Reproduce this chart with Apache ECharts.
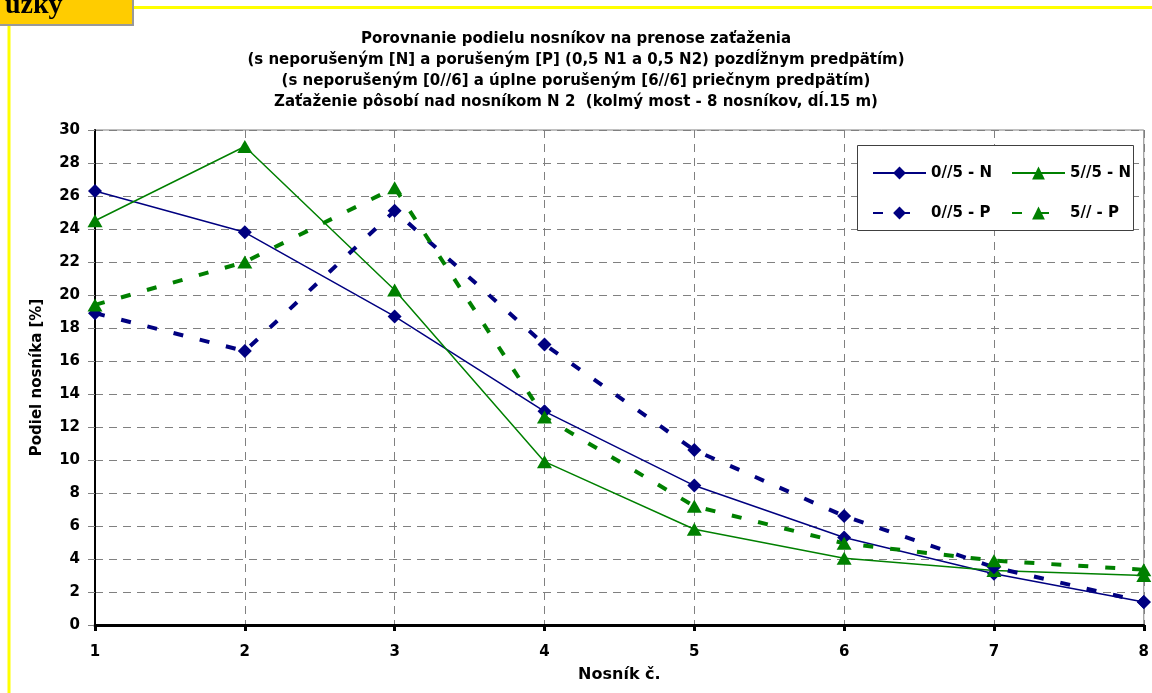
<!DOCTYPE html>
<html>
<head>
<meta charset="utf-8">
<script src="https://cdn.jsdelivr.net/npm/echarts@6/dist/echarts.min.js"></script>
<style>
  html, body { margin: 0; padding: 0; background: #ffffff; }
  #chart { width: 1152px; height: 693px; }
</style>
</head>
<body>
<div id="chart"></div>
<script>
// Nosníky 1..8
const categories = ['1', '2', '3', '4', '5', '6', '7', '8'];

// Podiel nosníka [%]
const n05N = [26.3, 23.8, 18.7, 12.95, 8.45, 5.3, 3.1, 1.4];
const n55N = [24.5, 29.0, 20.3, 9.9, 5.8, 4.05, 3.3, 3.0];
const n05P = [18.9, 16.6, 25.1, 17.0, 10.6, 6.6, 3.5, 1.4];
const n5P  = [19.4, 22.0, 26.5, 12.6, 7.2, 4.95, 3.9, 3.35];

const seriesNames = ['0//5 - N', '5//5 - N', '0//5 - P', '5// - P'];

const titleLines = [
  'Porovnanie podielu nosníkov na prenose zaťaženia',
  '(s neporušeným [N] a porušeným [P] (0,5 N1 a 0,5 N2) pozdĺžnym predpätím)',
  '(s neporušeným [0//6] a úplne porušeným [6//6] priečnym predpätím)',
  'Zaťaženie pôsobí nad nosníkom N 2  (kolmý most - 8 nosníkov, dĺ.15 m)'
];

const FONT = '"DejaVu Sans", Arial, sans-serif';
const NAVY = '#000080';
const GREEN = '#008000';

const chart = echarts.init(document.getElementById('chart'));

function lineSeries(name, data, color, symbol, size, dashed) {
  return {
    name: name,
    type: 'line',
    data: data,
    symbol: symbol,
    symbolSize: size,
    showSymbol: true,
    animation: false,
    itemStyle: { color: color },
    lineStyle: dashed
      ? { color: color, width: 4, type: [10, 17] }
      : { color: color, width: 1.5, type: 'solid' }
  };
}

const legendText = { fontFamily: FONT, fontWeight: 'bold', fontSize: 15, color: '#000', lineHeight: 16 };

chart.setOption({
  backgroundColor: '#ffffff',
  animation: false,
  title: {
    text: titleLines.join('\n'),
    left: 'center',
    top: 23,
    padding: [5, 0, 5, 14],
    textStyle: {
      fontFamily: FONT,
      fontWeight: 'bold',
      fontSize: 15,
      lineHeight: 21.3,
      color: '#000'
    }
  },
  grid: {
    left: 95,
    right: 7,
    top: 130,
    bottom: 68,
    show: true,
    borderColor: '#808080',
    borderWidth: 1,
    backgroundColor: '#ffffff'
  },
  legend: [
    {
      data: [seriesNames[0], seriesNames[2]],
      orient: 'vertical',
      left: 867,
      top: 160,
      itemWidth: 53,
      itemHeight: 16,
      itemGap: 24,
      textStyle: legendText,
      z: 5
    },
    {
      data: [seriesNames[1], seriesNames[3]],
      orient: 'vertical',
      left: 1006,
      top: 160,
      itemWidth: 53,
      itemHeight: 16,
      itemGap: 24,
      textStyle: legendText,
      z: 5
    }
  ],
  xAxis: {
    type: 'category',
    data: categories,
    boundaryGap: false,
    name: 'Nosník č.',
    nameLocation: 'middle',
    nameGap: 42,
    nameTextStyle: { fontFamily: FONT, fontWeight: 'bold', fontSize: 16, color: '#000' },
    axisLine: { show: true, lineStyle: { color: '#000', width: 3 } },
    axisTick: { show: true, alignWithLabel: true, length: 6, lineStyle: { color: '#000', width: 3 } },
    axisLabel: { fontFamily: FONT, fontWeight: 'bold', fontSize: 15, color: '#000', margin: 20 },
    splitLine: { show: true, lineStyle: { color: '#808080', width: 1, type: [8, 6] } }
  },
  yAxis: {
    type: 'value',
    min: 0,
    max: 30,
    interval: 2,
    name: 'Podiel nosníka [%]',
    nameLocation: 'middle',
    nameGap: 50,
    nameTextStyle: { fontFamily: FONT, fontWeight: 'bold', fontSize: 15, color: '#000' },
    axisLine: { show: true, lineStyle: { color: '#000', width: 2 } },
    axisTick: { show: true, length: 7, lineStyle: { color: '#808080', width: 1 } },
    axisLabel: { fontFamily: FONT, fontWeight: 'bold', fontSize: 15, color: '#000', margin: 15 },
    splitLine: { show: true, lineStyle: { color: '#808080', width: 1, type: [8, 6] } }
  },
  graphic: [
    // frame of the page section
    { type: 'line', shape: { x1: 134, y1: 7.5, x2: 1152, y2: 7.5 }, style: { stroke: '#ffff00', lineWidth: 3 }, z: 10 },
    { type: 'line', shape: { x1: 9, y1: 25, x2: 9, y2: 693 }, style: { stroke: '#ffff00', lineWidth: 3 }, z: 10 },
    { type: 'rect', shape: { x: -5, y: -5, width: 138, height: 30 }, style: { fill: '#ffcc00', stroke: '#999999', lineWidth: 2 }, z: 11 },
    { type: 'text', x: 5, y: 6, style: { text: 'úzky', font: 'bold 28px "Liberation Serif", "Times New Roman", serif', fill: '#000', verticalAlign: 'middle', align: 'left' }, z: 12 },
    // legend frame
    { type: 'rect', shape: { x: 857.5, y: 145.5, width: 276, height: 85 }, style: { fill: '#ffffff', stroke: '#404040', lineWidth: 1 }, z: 3 }
  ],
  series: [
    lineSeries(seriesNames[0], n05N, NAVY, 'diamond', 14, false),
    lineSeries(seriesNames[1], n55N, GREEN, 'triangle', [15, 13], false),
    lineSeries(seriesNames[2], n05P, NAVY, 'diamond', 14, true),
    lineSeries(seriesNames[3], n5P, GREEN, 'triangle', [15, 13], true)
  ]
});
</script>
</body>
</html>
